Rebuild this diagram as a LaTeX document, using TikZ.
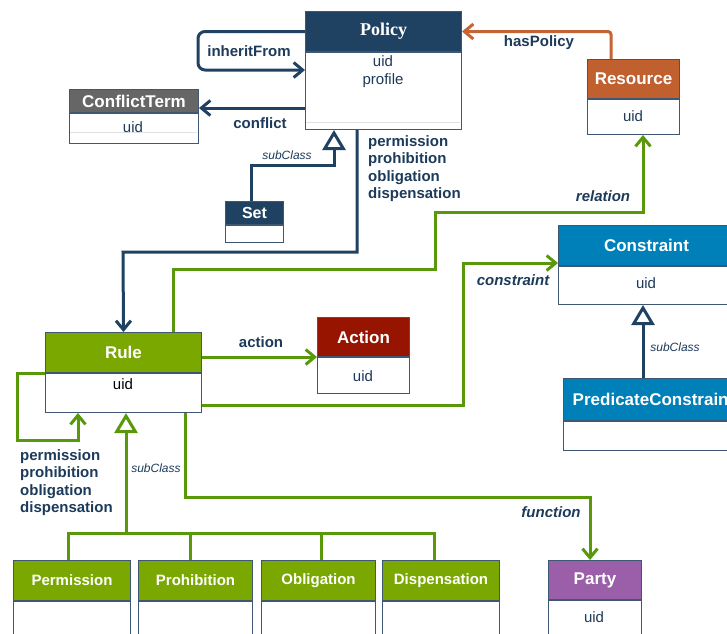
\documentclass[tikz,border=0pt]{standalone}
\usepackage{fontspec}
\setmainfont{Liberation Sans}
\newfontfamily\titleserif{Liberation Serif}
\usetikzlibrary{arrows.meta}

\definecolor{navy}{RGB}{31,66,99}
\definecolor{labnavy}{RGB}{28,58,90}
\definecolor{boxline}{RGB}{62,88,116}
\definecolor{headgreen}{RGB}{122,168,0}
\definecolor{linegreen}{RGB}{88,152,10}
\definecolor{headorange}{RGB}{192,96,46}
\definecolor{lineorange}{RGB}{196,100,54}
\definecolor{headred}{RGB}{150,20,0}
\definecolor{headblue}{RGB}{0,128,185}
\definecolor{headgray}{RGB}{102,102,102}
\definecolor{headpurple}{RGB}{155,94,168}
\definecolor{faintgray}{RGB}{222,226,230}

\tikzset{
	head/.style = {draw = boxline, fill = #1, text = white, line width = 1pt, inner sep = 0pt, anchor = north west, font = \bfseries\fontsize{17}{20}\selectfont},
	body/.style = {draw = boxline, fill = white, line width = 1pt, inner sep = 0pt, anchor = north west},
	attr/.style = {text = labnavy, inner sep = 0pt, align = center, font = \fontsize{15}{18}\selectfont},
	lab/.style = {text = labnavy, inner sep = 0pt, font = \bfseries\fontsize{15}{17.5}\selectfont},
	role/.style = {text = labnavy, inner sep = 0pt, font = \bfseries\itshape\fontsize{15}{17.5}\selectfont},
	sublab/.style = {text = labnavy, inner sep = 0pt, font = \itshape\fontsize{12}{14}\selectfont},
	link/.style = {draw = #1, line width = 3pt},
	assoc/.style = {link = #1, -{Straight Barb[length = 9pt, width = 15pt]}},
	gen/.style = {link = #1, -{Triangle[open, length = 20pt, width = 23pt, fill = white]}},
	faint/.style = {draw = faintgray, line width = 1pt}
}

\begin{document}
\begin{tikzpicture}[x = 1pt, y = -1pt]
	\useasboundingbox (0, 0) rectangle (727, 633);
	\clip (0, 0) rectangle (727, 633);

	% classes
	\node [head = navy, minimum width = 156pt, minimum height = 40pt, font = \titleserif\bfseries\fontsize{18}{20}\selectfont] (policy) at (305, 11) {Policy};
	\node [body, minimum width = 156pt, minimum height = 77pt] (policy-b) at (policy.south west) {};
	\draw [faint] (306, 122) -- (460, 122);
	\node [attr] (policy-a) at (383, 72) {uid\\profile};

	\node [head = headgray, minimum width = 129pt, minimum height = 23pt] (cterm) at (69, 89) {ConflictTerm};
	\node [body, minimum width = 129pt, minimum height = 30pt] (cterm-b) at (cterm.south west) {};
	\draw [faint] (70, 132) -- (197, 132);
	\node [attr] (cterm-a) at (133, 127) {uid};

	\node [head = headorange, minimum width = 92pt, minimum height = 39pt] (resource) at (587, 59) {Resource};
	\node [body, minimum width = 92pt, minimum height = 35pt] (resource-b) at (resource.south west) {};
	\node [attr] (resource-a) at (633, 116) {uid};

	\node [head = navy, minimum width = 58pt, minimum height = 23pt, font = \bfseries\fontsize{16}{18}\selectfont] (set) at (225, 201) {Set};
	\node [body, minimum width = 58pt, minimum height = 17pt] (set-b) at (set.south west) {};

	\node [head = headgreen, minimum width = 156pt, minimum height = 40pt] (rule) at (45, 332) {Rule};
	\node [body, minimum width = 156pt, minimum height = 39pt] (rule-b) at (rule.south west) {};
	\node [attr, text = black] (rule-a) at (123, 384) {uid};

	\node [head = headred, minimum width = 92pt, minimum height = 39pt] (action) at (317, 317) {Action};
	\node [body, minimum width = 92pt, minimum height = 36pt] (action-b) at (action.south west) {};
	\node [attr] (action-a) at (363, 376) {uid};

	\node [head = headblue, minimum width = 176pt, minimum height = 40pt] (constraint) at (558, 225) {Constraint};
	\node [body, minimum width = 176pt, minimum height = 38pt] (constraint-b) at (constraint.south west) {};
	\node [attr] (constraint-a) at (646, 283) {uid};

	\node [head = headblue, minimum width = 180pt, minimum height = 42pt] (pred) at (563, 378) {PredicateConstraint};
	\node [body, minimum width = 180pt, minimum height = 29pt] (pred-b) at (pred.south west) {};

	\node [head = headpurple, minimum width = 93pt, minimum height = 39pt] (party) at (548, 560) {Party};
	\node [body, minimum width = 93pt, minimum height = 60pt] (party-b) at (party.south west) {};
	\node [attr] (party-a) at (594, 617) {uid};

	\foreach \n/\x/\w/\t in {perm/13/117/Permission, prohib/138/114/Prohibition, oblig/261/114/Obligation, disp/382/117/Dispensation} {
		\node [head = headgreen, minimum width = \w pt, minimum height = 40pt, font = \bfseries\fontsize{15}{18}\selectfont] (\n) at (\x, 560) {\t};
		\node [body, minimum width = \w pt, minimum height = 60pt] (\n-b) at (\n.south west) {};
	}

	% policy links
	\draw [assoc = navy, rounded corners = 7pt] (policy.west) -| (198, 70) -- (policy-b.west |- 0, 70);
	\draw [assoc = navy] (policy-b.west |- 0, 108) -- (cterm.east |- 0, 108);
	\draw [gen = navy] (set.north -| 251, 0) |- (334, 165) -- (policy-b.south -| 334, 0);
	\draw [assoc = navy] (policy-b.south -| 357, 0) |- (123, 252) -- (rule.north);
	\draw [assoc = lineorange, rounded corners = 3pt] (resource.north -| 611, 0) |- (policy.east);

	\node [lab] (l-inherit) at (249, 51) {inheritFrom};
	\node [lab] (l-conflict) at (260, 123) {conflict};
	\node [lab] (l-has) at (539, 43) {hasPolicy};
	\node [lab, align = left, anchor = north west] (l-kinds) at (368, 135) {permission\\prohibition\\obligation\\dispensation};
	\node [sublab] (l-sub1) at (287, 155) {subClass};

	% rule links
	\draw [assoc = linegreen] (rule.north -| 173, 0) |- (435, 269) |- (643, 212) -- (resource-b.south -| 643, 0);
	\draw [assoc = linegreen] (rule.east |- 0, 357) -- (action.west |- 0, 357);
	\draw [assoc = linegreen] (rule-b.east |- 0, 405) -| (463, 263) -- (constraint.west |- 0, 263);
	\draw [assoc = linegreen] (rule.west |- 0, 373) -| (17, 440) -| (rule-b.south -| 78, 0);
	\draw [assoc = linegreen] (rule-b.south -| 185, 0) |- (590, 497) -- (party.north -| 590, 0);
	\draw [gen = navy] (pred.north -| 643, 0) -- (constraint-b.south -| 643, 0);

	\foreach \n/\x in {perm/68, prohib/190, oblig/321, disp/434} {
		\draw [link = linegreen] (\n.north -| \x, 0) -- (\x, 533);
	}
	\draw [link = linegreen, line cap = rect] (68, 533) -- (434, 533);
	\draw [gen = linegreen] (126, 533) -- (rule-b.south -| 126, 0);

	\node [role] (l-relation) at (603, 196) {relation};
	\node [lab] (l-action) at (261, 342) {action};
	\node [role] (l-constraint) at (513, 280) {constraint};
	\node [role] (l-function) at (551, 512) {function};
	\node [lab, align = left, anchor = north west] (l-rkinds) at (20, 449) {permission\\prohibition\\obligation\\dispensation};
	\node [sublab] (l-sub2) at (156, 468) {subClass};
	\node [sublab] (l-sub3) at (675, 347) {subClass};
\end{tikzpicture}
\end{document}
